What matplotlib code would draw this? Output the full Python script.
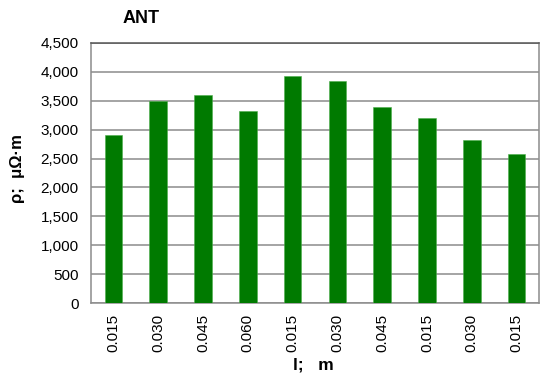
import matplotlib
matplotlib.use("Agg")
import matplotlib.pyplot as plt
from matplotlib.ticker import FuncFormatter

# ---- Data --------------------------------------------------------------------
lengths = ["0.015", "0.030", "0.045", "0.060", "0.015",
           "0.030", "0.045", "0.015", "0.030", "0.015"]
rho = [2900, 3500, 3590, 3320, 3920, 3840, 3390, 3200, 2820, 2570]

# ---- Plot --------------------------------------------------------------------
plt.rcParams.update({"font.family": ["Liberation Sans", "DejaVu Sans"], "font.size": 11})
fig = plt.figure(figsize=(5.5, 3.76), dpi=100)
ax = fig.add_axes([0.1655, 0.194, 0.8145, 0.692])

x = range(len(rho))
ax.bar(x, rho, width=0.39, color="#007a00", edgecolor="#4caf4c", linewidth=0.4, zorder=3)

ax.set_xlim(-0.5, len(rho) - 0.5)
ax.set_ylim(0, 4500)
ax.set_yticks(range(0, 4501, 500))
ax.yaxis.set_major_formatter(FuncFormatter(lambda v, p: f"{int(v):,}"))
ax.set_xticks(list(x))
ax.set_xticklabels(lengths, rotation=90)
ax.tick_params(axis="both", length=0, labelsize=11)
ax.tick_params(axis="y", pad=9)
ax.tick_params(axis="x", pad=8)

ax.yaxis.grid(True, color="#8c8c8c", linewidth=1.1, zorder=0)
for s in ax.spines.values():
    s.set_color("#8c8c8c")
    s.set_linewidth(1.1)
ax.spines["top"].set_color("#555555")

fig.text(0.256, 0.952, "ANT", ha="center", va="center", fontsize=13, fontweight="bold")
fig.text(0.032, 0.553, "ρ;  μΩ·m", rotation=90, ha="center", va="center",
         fontsize=12, fontweight="bold")
fig.text(0.57, 0.03, "l;   m", ha="center", va="center", fontsize=12.5, fontweight="bold")

fig.savefig("out.png", dpi=100)
